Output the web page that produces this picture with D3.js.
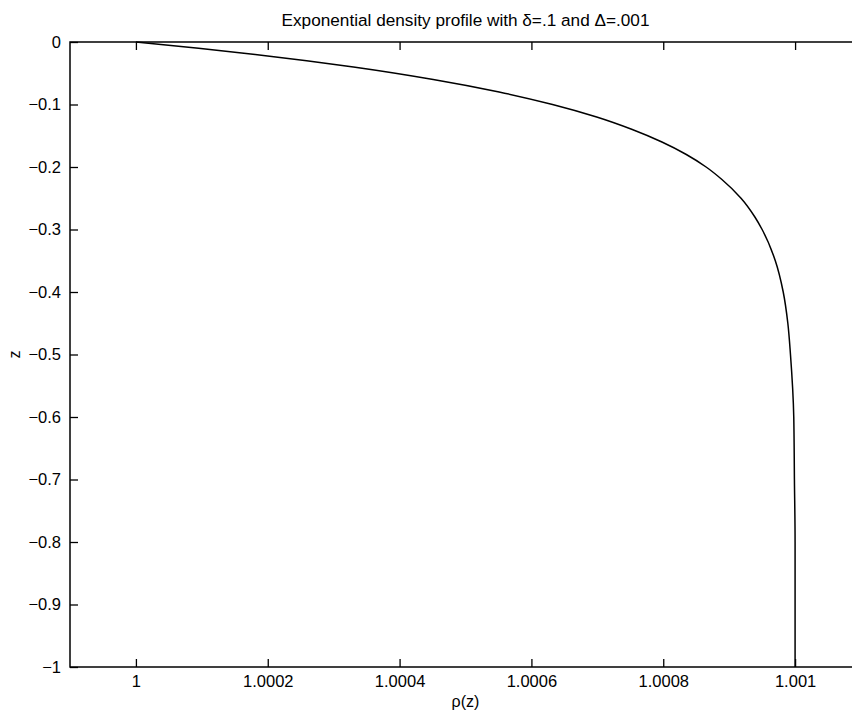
<!DOCTYPE html>
<html>
<head>
<meta charset="utf-8">
<script src="https://cdn.jsdelivr.net/npm/d3@7"></script>
<style>
  body { margin: 0; background: #fff; }
  svg { display: block; font-family: "Liberation Sans", Arial, sans-serif; }
</style>
</head>
<body>
<div id="vis"></div>
<script>
// depth z and density rho
const zVals = [0, -0.01, -0.02, -0.03, -0.04, -0.06, -0.08, -0.10, -0.12, -0.14, -0.16,
  -0.18, -0.20, -0.22, -0.25, -0.28, -0.30, -0.35, -0.40, -0.45, -0.50, -0.60, -0.70, -0.80, -0.90, -1.0];
const rhoVals = [1.0, 1.000095, 1.000181, 1.000259, 1.000330, 1.000451, 1.000551, 1.000632,
  1.000699, 1.000753, 1.000798, 1.000835, 1.000865, 1.000889, 1.000918, 1.000939, 1.000950,
  1.000970, 1.000982, 1.000989, 1.000993, 1.000998, 1.000999, 1.0010, 1.0010, 1.0010];
const xTicks = [1, 1.0002, 1.0004, 1.0006, 1.0008, 1.001];
const xTickLabels = ["1", "1.0002", "1.0004", "1.0006", "1.0008", "1.001"];
const yTicks = [0, -0.1, -0.2, -0.3, -0.4, -0.5, -0.6, -0.7, -0.8, -0.9, -1];

const width = 852, height = 711;
const margin = {left: 70, right: 861, top: 42, bottom: 667};

const data = zVals.map((z, i) => ({z: z, rho: rhoVals[i]}));

const x = d3.scaleLinear()
  .domain([0.9999, 1.0011])
  .range([margin.left, margin.right]);
const y = d3.scaleLinear()
  .domain([-1, 0])
  .range([margin.bottom, margin.top]);

const svg = d3.select("#vis").append("svg")
  .attr("width", width)
  .attr("height", height);

// frame
svg.append("rect")
  .attr("x", margin.left)
  .attr("y", margin.top)
  .attr("width", margin.right - margin.left)
  .attr("height", margin.bottom - margin.top)
  .attr("fill", "none")
  .attr("stroke", "#000")
  .attr("stroke-width", 1.5);

const tickLen = 8;
const fmt = d => xTickLabels[xTicks.indexOf(d)];

// bottom axis
const gx = svg.append("g")
  .attr("transform", `translate(0,${margin.bottom})`)
  .call(d3.axisBottom(x).tickValues(xTicks).tickFormat(fmt)
    .tickSizeInner(-tickLen).tickSizeOuter(0).tickPadding(8));
// top axis, ticks only
const gxt = svg.append("g")
  .attr("transform", `translate(0,${margin.top})`)
  .call(d3.axisTop(x).tickValues(xTicks).tickFormat("")
    .tickSizeInner(-tickLen).tickSizeOuter(0));
// left axis
const gy = svg.append("g")
  .attr("transform", `translate(${margin.left},0)`)
  .call(d3.axisLeft(y).tickValues(yTicks)
    .tickFormat(d => d === 0 ? "0" : d === -1 ? "\u22121" : "\u2212" + d3.format(".1f")(-d))
    .tickSizeInner(-tickLen).tickSizeOuter(0).tickPadding(9));
// right axis, ticks only
const gyr = svg.append("g")
  .attr("transform", `translate(${margin.right},0)`)
  .call(d3.axisRight(y).tickValues(yTicks).tickFormat("")
    .tickSizeInner(-tickLen).tickSizeOuter(0));

[gx, gxt, gy, gyr].forEach(g => {
  g.select(".domain").remove();
  g.selectAll(".tick line").attr("stroke", "#000").attr("stroke-width", 1.3);
  g.selectAll("text").attr("fill", "#000").style("font-size", "16.5px")
    .style("font-family", "'Liberation Sans', Arial, sans-serif");
});

// curve
svg.append("path")
  .datum(data)
  .attr("fill", "none")
  .attr("stroke", "#000")
  .attr("stroke-width", 1.5)
  .attr("d", d3.line()
    .x(d => x(d.rho))
    .y(d => y(d.z))
    .curve(d3.curveMonotoneY));

// title and labels
svg.append("text")
  .attr("x", (margin.left + margin.right) / 2)
  .attr("y", 26)
  .attr("text-anchor", "middle")
  .style("font-size", "17.2px")
  .text("Exponential density profile with \u03b4=.1 and \u0394=.001");

svg.append("text")
  .attr("x", (margin.left + margin.right) / 2)
  .attr("y", 707)
  .attr("text-anchor", "middle")
  .style("font-size", "16px")
  .text("\u03c1(z)");

svg.append("text")
  .attr("transform", `translate(20,${(margin.top + margin.bottom) / 2}) rotate(-90)`)
  .attr("text-anchor", "middle")
  .style("font-size", "16px")
  .text("z");
</script>
</body>
</html>
